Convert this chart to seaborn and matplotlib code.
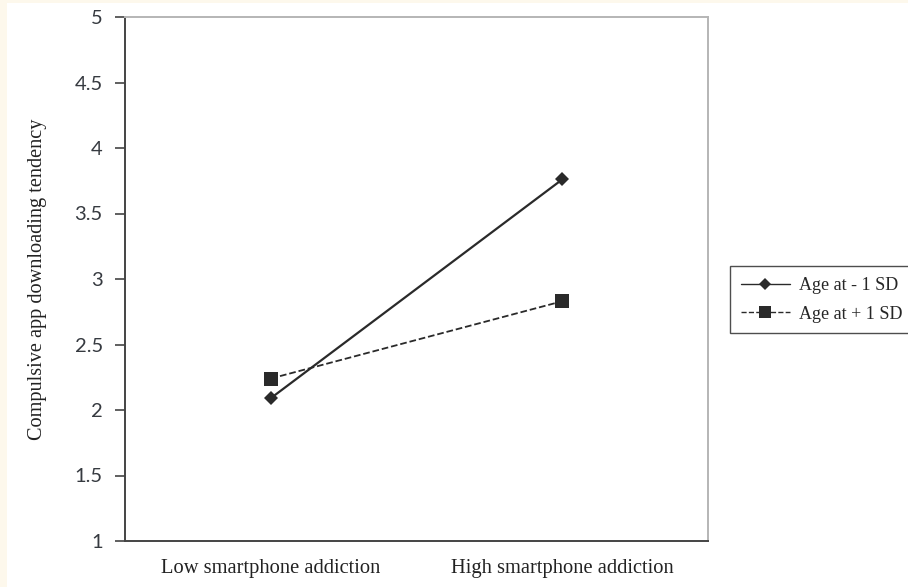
import matplotlib
matplotlib.use("Agg")
import matplotlib.pyplot as plt
from matplotlib.patches import Rectangle
import seaborn as sns
import pandas as pd

# values
categories = ["Low smartphone addiction", "High smartphone addiction"]
groups = ["Age at - 1 SD", "Age at + 1 SD"]
young_vals = [2.09, 3.76]
old_vals = [2.24, 2.83]
y_ticks = [1, 1.5, 2, 2.5, 3, 3.5, 4, 4.5, 5]
y_tick_labels = ["1", "1.5", "2", "2.5", "3", "3.5", "4", "4.5", "5"]

df = pd.DataFrame({
    "addiction": categories * 2,
    "score": young_vals + old_vals,
    "age": [groups[0]] * 2 + [groups[1]] * 2,
})

sns.set_style("white")
serif = ["Liberation Serif", "DejaVu Serif"]
sans = ["Lato", "DejaVu Sans"]

fig = plt.figure(figsize=(9.08, 5.87), dpi=100, facecolor="#fdf8ec")
fig.patches.append(Rectangle((7 / 908, 0), 1, 1 - 3 / 587, transform=fig.transFigure,
                             facecolor="white", edgecolor="none", zorder=-1))
ax = fig.add_axes([125 / 908, 46 / 587, 583 / 908, 524 / 587])
ax.set_facecolor("white")

ink = "#2a2a2a"
sns.pointplot(data=df, x="addiction", y="score", hue="age", ax=ax,
              palette=[ink, ink], markers=["D", "s"], linestyles=["-", "--"],
              errorbar=None)

# marker sizes / line widths per series
styles = [(7, 1.6), (9.5, 1.3)]
lines = [l for l in ax.get_lines() if len(l.get_xdata()) == 2]
for l, (ms, lw) in zip(lines, styles):
    l.set_markersize(ms)
    l.set_linewidth(lw)
    l.set_markeredgewidth(0)

ax.set_xlim(-0.5, 1.5)
ax.set_ylim(1, 5)
ax.set_yticks(y_ticks)
ax.set_yticklabels(y_tick_labels, fontfamily=sans, fontsize=14.5, color="#363a40")
ax.set_xticks([0, 1])
ax.set_xticklabels(categories, fontfamily=serif, fontsize=14.8, color="#222222")
ax.set_xticks([-0.5, 0.5, 1.5], minor=True)
ax.tick_params(axis="x", which="major", length=0, pad=13)
ax.tick_params(axis="x", which="minor", length=6, width=1.2, color="#444444", direction="out")
ax.tick_params(axis="y", length=7, width=1.2, color="#444444", direction="out", pad=9, left=True)

ax.set_xlabel("")
ax.set_ylabel("Compulsive app downloading tendency", fontfamily=serif, fontsize=14.6,
              color="#222222", labelpad=20)

for side in ["left", "bottom"]:
    ax.spines[side].set_color("#444444")
    ax.spines[side].set_linewidth(1.4)
for side in ["top", "right"]:
    ax.spines[side].set_color("#b5b5b5")
    ax.spines[side].set_linewidth(1.4)

handles, labels = ax.get_legend_handles_labels()
ax.legend_.remove()
leg = fig.legend(handles, labels, loc="upper left", bbox_to_anchor=(730 / 908, 1 - 266 / 587),
                 bbox_transform=fig.transFigure, borderaxespad=0, frameon=True, fancybox=False,
                 edgecolor="#222222", handlelength=2.7, handletextpad=0.5,
                 prop={"family": serif, "size": 13}, labelspacing=0.65, borderpad=0.6)
leg.get_frame().set_linewidth(1.0)
for h, (ms, lw) in zip(leg.legend_handles, styles):
    h.set_linewidth(1.0)
    h.set_markersize(ms * 0.9)
    h.set_markeredgewidth(0)

fig.savefig("out.png", dpi=100, facecolor=fig.get_facecolor())
